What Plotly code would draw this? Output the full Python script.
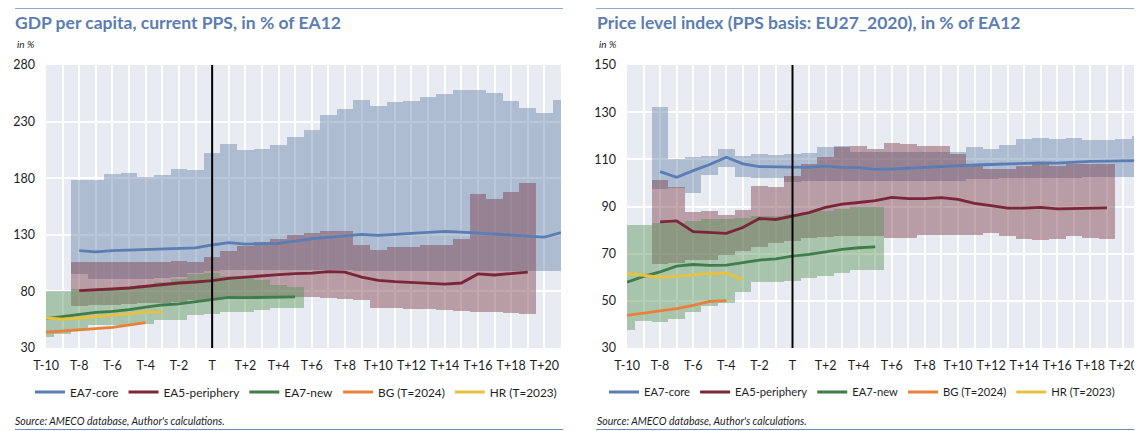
import plotly.graph_objects as go

# ---------------- data ----------------
x_index = list(range(-10, 22))
tick_vals = list(range(-10, 21, 2))
tick_labels = ["T-10", "T-8", "T-6", "T-4", "T-2", "T", "T+2", "T+4", "T+6", "T+8",
               "T+10", "T+12", "T+14", "T+16", "T+18", "T+20"]

# ---- GDP per capita (left) ----
gdp_core_x = list(range(-8, 22))
gdp_core_top = [178, 178, 184, 185, 181, 183, 188, 187, 202, 210, 205, 206, 209, 216,
                223, 236, 241, 249, 244, 247, 248, 252, 254, 258, 258, 255, 248, 242, 238, 249]
gdp_core_bot = [95, 91, 91, 91, 91, 92, 93, 96, 98, 99, 99, 99, 99, 99,
                99, 99, 99, 98, 98, 98, 98, 98, 98, 98, 98, 98, 98, 98, 98, 98]
gdp_core_line = [116, 115, 116, 116.5, 116.5, 117, 118, 118.5, 121, 123, 121.8, 122, 122.5, 124.5,
                 126.5, 127.7, 129.2, 130.4, 129.5, 130.4, 131, 132.4, 133, 132.4, 131.5, 130.4,
                 129.5, 129.2, 128, 132]

gdp_peri_x = list(range(-8, 20))
gdp_peri_top = [106, 106, 106, 106, 106, 106, 107, 106, 110, 116, 120, 124, 126, 130,
                132, 133, 133, 121, 117, 119, 119, 121, 121, 126, 166, 162, 168, 176]
gdp_peri_bot = [67, 68, 68, 69, 70, 70, 71, 72, 72, 73, 74, 74, 75, 75,
                75, 74.5, 73.5, 72.5, 65.5, 65, 64.5, 64.5, 64, 62.5, 62, 61.5, 60.5, 60]
gdp_peri_line = [80.7, 81.2, 82.1, 83, 84.5, 86, 87.4, 88.3, 89.5, 91.5, 92.7, 94.2, 94.8, 95.7,
                 96.2, 97.4, 97.1, 92.7, 89.8, 88.6, 87.7, 86.8, 86.5, 87.4, 95.4, 94.5, 96, 97.1]

gdp_new_x = list(range(-10, 6))
gdp_new_top = [80, 80, 82, 82, 83, 84, 86, 88, 91, 95, 96, 94, 92, 90, 86, 84]
gdp_new_bot = [40, 42, 47, 50, 50, 50, 51, 55, 55, 59, 60, 62, 62, 64, 65, 65]
gdp_new_line = [56, 58, 60.1, 61.5, 62.4, 63.9, 66.2, 68, 68.9, 71, 72.7, 74.8, 74.5, 74.5, 74.8, 75.1]

gdp_bg_x = list(range(-10, -3))
gdp_bg_line = [43.9, 44.8, 46.2, 47.1, 48.3, 50.1, 52.4]
gdp_hr_x = list(range(-10, -2))
gdp_hr_line = [56.5, 55.4, 56.5, 57.4, 58.9, 60.1, 62.1, 61.5]

# ---- Price level index (right) ----
pli_core_x = list(range(-8, 22))
pli_core_top = [132, 110.2, 110.9, 111.6, 114.5, 111.6, 112.3, 111.9, 112.3, 112.8, 115.2, 115.6,
                113, 113, 113, 113, 113, 113, 113, 115.2, 114.5, 115.9, 118.7, 119.1, 118.7,
                119.1, 118.4, 118.3, 118.7, 120.1]
pli_core_bot = [97.4, 98, 95.6, 103.5, 106.6, 102.5, 102, 102, 100.5, 101, 101, 101,
                101, 101, 101, 101, 101, 101, 101, 101.5, 101.5, 102, 102, 102, 102,
                102, 102.4, 102.4, 102.4, 102.4]
pli_core_line = [104.8, 102.4, 105.2, 107.8, 110.9, 108.1, 106.9, 106.9, 106.6, 106.6, 107.1, 106.6,
                 106.5, 105.7, 105.9, 106.4, 106.6, 106.9, 107.4, 107.6, 107.8, 108.1, 108.5, 108.5,
                 108.4, 108.8, 109.1, 109.2, 109.3, 109.5]

pli_peri_x = list(range(-8, 20))
pli_peri_top = [101.2, 98.1, 87.5, 87.9, 86.3, 88.5, 98.8, 98.1, 103.1, 108.1, 111.2, 115.2, 115.5, 114.2,
                117, 116.7, 115.5, 115.7, 112.1, 107, 106, 106, 107, 108, 107, 108, 108, 108]
pli_peri_bot = [65.5, 66, 67.5, 67.5, 69.5, 71, 73, 74.5, 75.5, 76.5, 77, 77.5, 77.5, 77.5,
                76.5, 76.8, 77.9, 77.9, 77.9, 77.9, 78.9, 77.5, 76.1, 75.8, 76.1, 77.5, 76.5, 76.1]
pli_peri_line = [83.5, 83.9, 79.3, 79.1, 78.6, 81.1, 84.9, 84.5, 85.9, 87.4, 89.6, 91, 91.7, 92.5,
                 93.9, 93.3, 93.3, 93.8, 93, 91.3, 90.4, 89.3, 89.3, 89.6, 89, 89.2, 89.4, 89.4]

pli_new_x = list(range(-10, 6))
pli_new_top = [82, 82.2, 83.2, 83.2, 83.9, 84.6, 84.8, 85.3, 86, 86, 86.7, 87.5, 88.2, 88.9, 89.9, 89.9]
pli_new_bot = [37.7, 41.5, 41, 42.4, 45.2, 47.6, 49.1, 53.6, 57.9, 58, 58.3, 59.5, 60.4, 61.9, 62.9, 63]
pli_new_line = [57.9, 60.4, 62.3, 64.7, 65.4, 65, 65.1, 66.1, 67.3, 67.8, 69, 69.7, 70.8, 71.8, 72.5, 72.9]

pli_bg_x = list(range(-10, -3))
pli_bg_line = [43.8, 44.8, 45.5, 46.7, 48.1, 49.8, 50.1]
pli_hr_x = list(range(-10, -2))
pli_hr_line = [61.6, 60.9, 60, 60.4, 60.9, 61.6, 61.6, 59]

series_names = ["EA7-core", "EA5-periphery", "EA7-new", "BG (T=2024)", "HR (T=2023)"]

# ---------------- styling ----------------
FONT = "Lato"
BG = "#E9EBF2"
C_CORE, C_PERI, C_NEW, C_BG, C_HR = "#5A7DB3", "#7A2638", "#3F7E4B", "#E9803B", "#E8C13E"
F_CORE, F_PERI, F_NEW = "rgba(106,135,173,0.47)", "rgba(124,59,73,0.45)", "rgba(88,148,86,0.45)"
TITLE_C = "#5B7DB1"
RULE_C = "#6E8DBF"
TXT = "#1e1e1e"

# page has an 8px body margin: lay the figure out in page pixels shifted by that offset
OFF = 8
W, H = 1142 - OFF, 431 - OFF


def px(x):
    return (x - OFF) / W


def py(y):
    return 1 - (y - OFF) / H


fig = go.Figure()


def band(xs, top, bot, color, xa, ya):
    fig.add_trace(go.Bar(
        x=xs, y=[t - b for t, b in zip(top, bot)], base=bot, width=1,
        marker=dict(color=color, line=dict(width=0)),
        showlegend=False, hoverinfo="skip", xaxis=xa, yaxis=ya))


def line(xs, ys, color, name, xa, ya, leg):
    fig.add_trace(go.Scatter(
        x=xs, y=ys, mode="lines", line=dict(color=color, width=2.8),
        name=name, xaxis=xa, yaxis=ya, legend=leg))


# left
band(gdp_core_x, gdp_core_top, gdp_core_bot, F_CORE, "x", "y")
band(gdp_peri_x, gdp_peri_top, gdp_peri_bot, F_PERI, "x", "y")
band(gdp_new_x, gdp_new_top, gdp_new_bot, F_NEW, "x", "y")
line(gdp_core_x, gdp_core_line, C_CORE, series_names[0], "x", "y", "legend")
line(gdp_peri_x, gdp_peri_line, C_PERI, series_names[1], "x", "y", "legend")
line(gdp_new_x, gdp_new_line, C_NEW, series_names[2], "x", "y", "legend")
line(gdp_bg_x, gdp_bg_line, C_BG, series_names[3], "x", "y", "legend")
line(gdp_hr_x, gdp_hr_line, C_HR, series_names[4], "x", "y", "legend")

# right
band(pli_core_x, pli_core_top, pli_core_bot, F_CORE, "x2", "y2")
band(pli_peri_x, pli_peri_top, pli_peri_bot, F_PERI, "x2", "y2")
band(pli_new_x, pli_new_top, pli_new_bot, F_NEW, "x2", "y2")
line(pli_core_x, pli_core_line, C_CORE, series_names[0], "x2", "y2", "legend2")
line(pli_peri_x, pli_peri_line, C_PERI, series_names[1], "x2", "y2", "legend2")
line(pli_new_x, pli_new_line, C_NEW, series_names[2], "x2", "y2", "legend2")
line(pli_bg_x, pli_bg_line, C_BG, series_names[3], "x2", "y2", "legend2")
line(pli_hr_x, pli_hr_line, C_HR, series_names[4], "x2", "y2", "legend2")

ydom = [py(348), py(65)]

xcommon = dict(range=[-10, 21], tickmode="array", tickvals=tick_vals, ticktext=tick_labels,
               showgrid=False, zeroline=False, showline=False, ticks="", automargin=False,
               ticklabelstandoff=8, tickfont=dict(family=FONT, size=12.5, color=TXT),
               minor=dict(dtick=1, tick0=0, showgrid=True, gridcolor="white", gridwidth=1.5))
ycommon = dict(showgrid=True, gridcolor="white", gridwidth=1.5, zeroline=False, showline=False,
               ticks="", ticklabelstandoff=10, automargin=False,
               tickfont=dict(family=FONT, size=12.5, color=TXT))

legcommon = dict(orientation="h", y=py(392), xanchor="left", yanchor="middle", itemwidth=30,
                 bgcolor="rgba(0,0,0,0)", tracegroupgap=0)

fig.update_layout(
    width=W, height=H, margin=dict(l=0, r=0, t=0, b=0, autoexpand=False),
    paper_bgcolor="white", plot_bgcolor=BG,
    barmode="overlay", bargap=0,
    font=dict(family=FONT, size=12, color=TXT),
    xaxis=dict(domain=[px(46), px(561)], anchor="y", **xcommon),
    yaxis=dict(domain=ydom, anchor="x", range=[30, 280], dtick=50, tick0=30, **ycommon),
    xaxis2=dict(domain=[px(627), px(1140)], anchor="y2", **xcommon),
    yaxis2=dict(domain=ydom, anchor="x2", range=[30, 150], dtick=20, tick0=30, **ycommon),
    legend=dict(x=px(30), font=dict(family=FONT, size=11.8, color=TXT), **legcommon),
    legend2=dict(x=px(604), font=dict(family=FONT, size=11.2, color=TXT), **legcommon),
    showlegend=True,
)

shapes = []
for xr, yr in (("x", "y domain"), ("x2", "y2 domain")):
    shapes.append(dict(type="line", xref=xr, yref=yr, x0=0, x1=0, y0=0, y1=1,
                       line=dict(color="black", width=2), layer="above"))
for x0, x1 in ((15, 563), (596, 1142)):
    shapes.append(dict(type="line", xref="paper", yref="paper", x0=px(x0), x1=min(px(x1), 1.0),
                       y0=py(7.5), y1=py(7.5), line=dict(color=RULE_C, width=2.5)))
    shapes.append(dict(type="line", xref="paper", yref="paper", x0=px(x0), x1=min(px(x1), 1.0),
                       y0=py(429.5), y1=py(429.5), line=dict(color=RULE_C, width=1.2)))
fig.update_layout(shapes=shapes)

annotations = []
for x0, title in ((13, "GDP per capita, current PPS, in % of EA12"),
                  (595, "Price level index (PPS basis: EU27_2020), in % of EA12")):
    annotations.append(dict(text="<b>" + title + "</b>", xref="paper", yref="paper",
                            x=px(x0), y=py(22), xanchor="left", yanchor="middle",
                            showarrow=False, font=dict(family=FONT, size=17.5, color=TITLE_C)))
    annotations.append(dict(text="<i>in %</i>", xref="paper", yref="paper",
                            x=px(x0 + 2), y=py(44), xanchor="left", yanchor="middle",
                            showarrow=False, font=dict(family=FONT, size=10, color=TXT)))
    annotations.append(dict(text="<i>Source: AMECO database, Author's calculations.</i>",
                            xref="paper", yref="paper", x=px(x0), y=py(421),
                            xanchor="left", yanchor="middle", showarrow=False,
                            font=dict(family=FONT, size=10.5, color=TXT)))
fig.update_layout(annotations=annotations)

fig.write_html("out.html")
